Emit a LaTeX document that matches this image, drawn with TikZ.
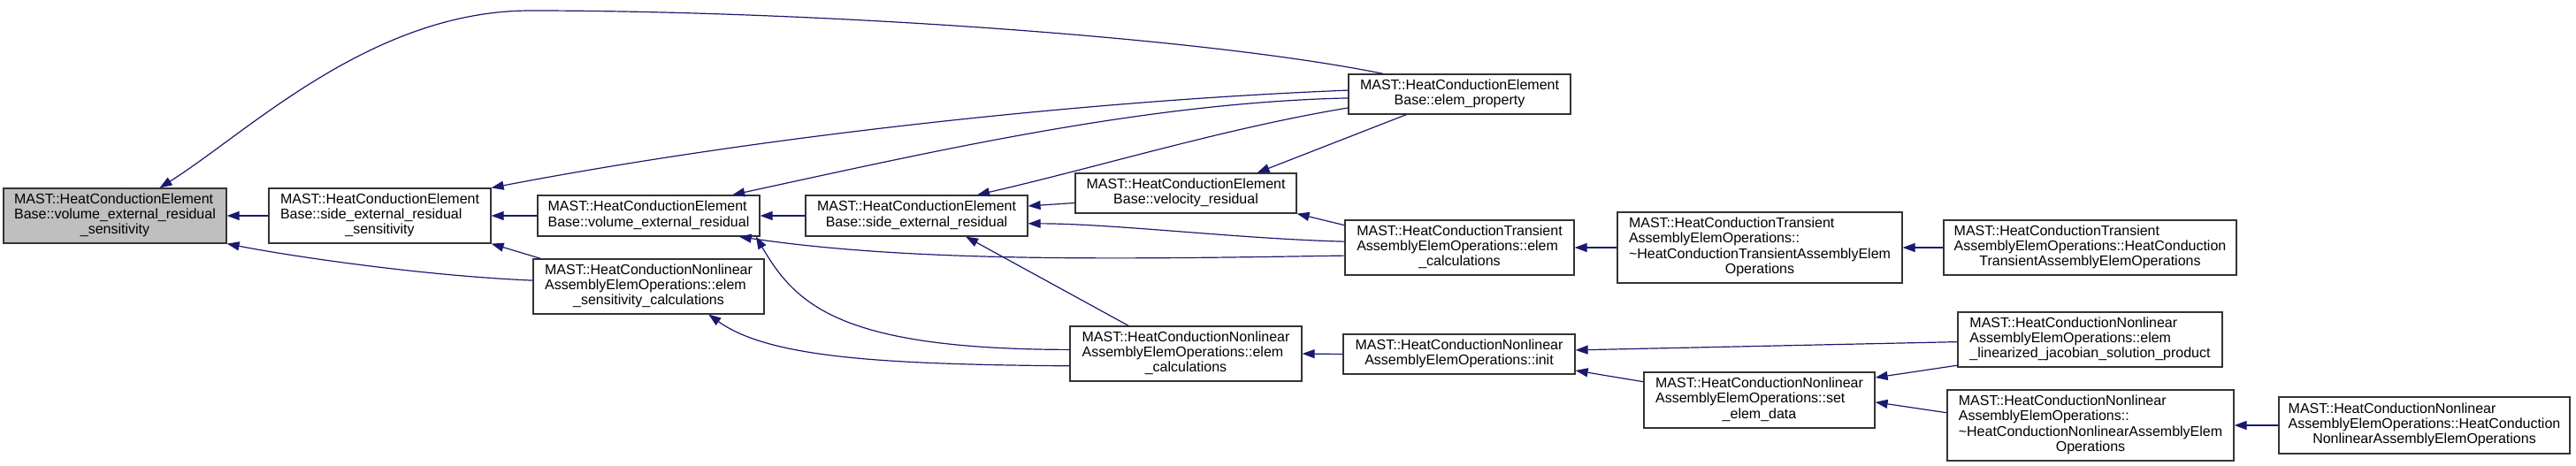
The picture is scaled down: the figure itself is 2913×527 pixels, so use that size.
\documentclass[tikz,border=0pt]{standalone}
\usepackage{fontspec}
\setmainfont{Liberation Sans}
\usetikzlibrary{arrows.meta}
\definecolor{midnight}{HTML}{191970}
\definecolor{grey75}{HTML}{BFBFBF}
\newcommand{\fnl}[1]{\begin{tabular}{@{}l@{}}#1\end{tabular}}
\newcommand{\lastl}[1]{\multicolumn{1}{@{}c@{}}{#1}}

\begin{document}
\begin{tikzpicture}[x=1pt,y=-1pt,
  fn/.style 2 args={draw=black!80,line width=1.2pt,fill=white,inner sep=0pt,
    minimum width=#1pt,minimum height=#2pt,font=\fontsize{16}{17.2}\selectfont},
  root/.style={fill=grey75},
  call/.style={draw=midnight,line width=1.2pt,-{Triangle[length=14pt,width=10pt]}}]
\useasboundingbox (0,0) rectangle (2913,527);

\node[fn={252}{62},root] (vers) at (130,244) {\fnl{MAST::HeatConductionElement\\ Base::volume\_external\_residual\\ \lastl{\_sensitivity}}};
\node[fn={251}{62}] (sers) at (429.5,244) {\fnl{MAST::HeatConductionElement\\ Base::side\_external\_residual\\ \lastl{\_sensitivity}}};
\node[fn={251}{46}] (ver) at (733.5,244) {\fnl{MAST::HeatConductionElement\\ \lastl{Base::volume\_external\_residual}}};
\node[fn={261}{62}] (nesc) at (733.5,324) {\fnl{MAST::HeatConductionNonlinear\\ AssemblyElemOperations::elem\\ \lastl{\_sensitivity\_calculations}}};
\node[fn={251}{46}] (ser) at (1036.5,244) {\fnl{MAST::HeatConductionElement\\ \lastl{Base::side\_external\_residual}}};
\node[fn={250}{45}] (velres) at (1341,218.5) {\fnl{MAST::HeatConductionElement\\ \lastl{Base::velocity\_residual}}};
\node[fn={251}{45}] (elemprop) at (1650.5,106.5) {\fnl{MAST::HeatConductionElement\\ \lastl{Base::elem\_property}}};
\node[fn={259}{62}] (tcalc) at (1650.5,280) {\fnl{MAST::HeatConductionTransient\\ AssemblyElemOperations::elem\\ \lastl{\_calculations}}};
\node[fn={262}{62}] (ncalc) at (1341,400) {\fnl{MAST::HeatConductionNonlinear\\ AssemblyElemOperations::elem\\ \lastl{\_calculations}}};
\node[fn={262}{45}] (ninit) at (1650,400.5) {\fnl{MAST::HeatConductionNonlinear\\ \lastl{AssemblyElemOperations::init}}};
\node[fn={322}{80}] (tdtor) at (1990,280) {\fnl{MAST::HeatConductionTransient\\ AssemblyElemOperations::\\ \textasciitilde HeatConductionTransientAssemblyElem\\ \lastl{Operations}}};
\node[fn={331}{62}] (tctor) at (2363.5,280) {\fnl{MAST::HeatConductionTransient\\ AssemblyElemOperations::HeatConduction\\ \lastl{TransientAssemblyElemOperations}}};
\node[fn={261}{63}] (nset) at (1989.5,452.5) {\fnl{MAST::HeatConductionNonlinear\\ AssemblyElemOperations::set\\ \lastl{\_elem\_data}}};
\node[fn={299}{62}] (nljsp) at (2363.5,384) {\fnl{MAST::HeatConductionNonlinear\\ AssemblyElemOperations::elem\\ \lastl{\_linearized\_jacobian\_solution\_product}}};
\node[fn={324}{80}] (ndtor) at (2364,481) {\fnl{MAST::HeatConductionNonlinear\\ AssemblyElemOperations::\\ \textasciitilde HeatConductionNonlinearAssemblyElem\\ \lastl{Operations}}};
\node[fn={329}{64}] (nctor) at (2741.5,481) {\fnl{MAST::HeatConductionNonlinear\\ AssemblyElemOperations::HeatConduction\\ \lastl{NonlinearAssemblyElemOperations}}};

\draw[call] (sers.west) -- (vers.east);
\draw[call] (elemprop.165) .. controls (1350,40) and (900,12) .. (600,12) .. controls (420,12) and (280,150) .. (vers.32);
\draw[call] (nesc.177) .. controls (480,312) and (330,290) .. (vers.south east);
\draw[call] (ver.west) -- (sers.east);
\draw[call] (elemprop.178) .. controls (1225,114) and (855,155) .. (sers.north east);
\draw[call] ([xshift=9pt]nesc.north west) -- (sers.south east);
\draw[call] (ser.west) -- (ver.east);
\draw[call] (elemprop.182) .. controls (1295,116) and (1056,171) .. (ver.14);
\draw[call] (tcalc.184) .. controls (1271,293) and (1033,297) .. (ver.-13);
\draw[call] (ncalc.178) .. controls (950,395) and (900,345) .. (ver.-11);
\draw[call] (velres.185) -- (ser.5);
\draw[call] (tcalc.177) .. controls (1400,270) and (1260,253) .. (ser.-4);
\draw[call] (ncalc.154) -- (ser.-23);
\draw[call] (elemprop.187) .. controls (1385,145) and (1242,189) .. (ser.19);
\draw[call] (elemprop.201) -- (velres.16);
\draw[call] (tcalc.169) -- (velres.south east);
\draw[call] (tdtor.west) -- (tcalc.east);
\draw[call] (tctor.west) -- (tdtor.east);
\draw[call] (ninit.west) -- (ncalc.east);
\draw[call] (ncalc.186) .. controls (1000,412) and (870,405) .. (nesc.-25);
\draw[call] (nljsp.181) -- (ninit.2);
\draw[call] (nset.171) -- (ninit.-8);
\draw[call] (nljsp.191) -- (nset.11);
\draw[call] (ndtor.175) -- (nset.-1);
\draw[call] (nctor.west) -- (ndtor.east);
\end{tikzpicture}
\end{document}
